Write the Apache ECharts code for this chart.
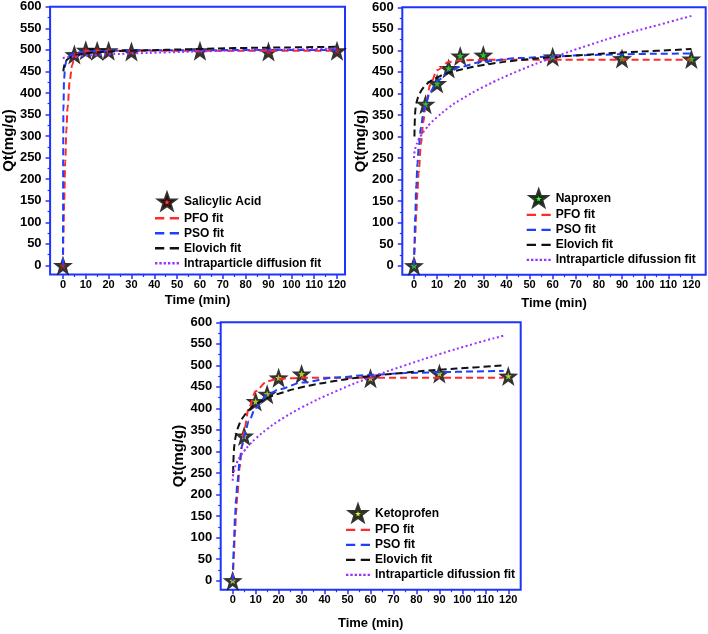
<!DOCTYPE html>
<html>
<head>
<meta charset="utf-8">
<script src="https://cdn.jsdelivr.net/npm/echarts@6/dist/echarts.min.js"></script>
<style>
html,body{margin:0;padding:0;background:#fff;}
#chart{width:708px;height:634px;}
</style>
</head>
<body>
<div id="chart"></div>
<script>
// ---- data ----
const timeMin = [0, 5, 10, 15, 20, 30, 60, 90, 120];
const salicylicQt = [0, 489, 499, 498, 498, 496, 498, 496, 498];
const naproxenQt = [0, 375, 423, 458, 487, 489, 485, 481, 480];
const ketoprofenQt = [0, 336, 416, 433, 471, 480, 470, 481, 475];

const fitT = [0, 0.2, 0.5, 1, 1.5, 2, 3, 4, 5, 7, 10, 15, 20, 30, 45, 60, 75, 90, 105, 120];
const ketoFitT = [0, 0.2, 0.5, 1, 1.5, 2, 3, 4, 5, 7, 10, 15, 20, 30, 45, 60, 75, 90, 105, 118];

const saPFO = [0, 62, 140, 240, 313, 365, 430, 464, 480, 493, 497, 498, 498, 498, 498, 498, 498, 498, 498, 498];
const saPSO = [0, 360, 433, 464, 475, 481, 487, 490, 492, 494, 496, 497, 498, 498.7, 499, 499, 499.5, 499.5, 499.6, 499.7];
const saElovich = [null, 450, 462, 470, 475, 478, 482, 485, 487, 489, 492, 494, 496, 498, 500, 502, 504, 505, 506, 507];
const saIPD = [480, 481, 481.5, 482, 482.6, 483, 483.6, 484.2, 484.7, 485.6, 486.6, 488, 489.4, 491.5, 494, 496.3, 498.2, 500, 501.5, 503];

const naPFO = [0, 28, 66, 124, 172, 215, 282, 333, 371, 420, 454, 473, 477, 478, 478, 478, 478, 478, 478, 478];
const naPSO = [0, 53, 115, 187, 237, 273, 321, 353, 375, 404, 429, 450, 462, 474, 482, 486, 489, 491, 492, 493];
const naElovich = [null, 300, 355, 376, 387, 394, 405, 413, 419, 428, 437, 448, 455, 466, 477, 484, 490, 495, 499, 503];
const naIPD = [250, 263, 271, 280, 287, 293, 302, 310, 317, 330, 345, 367, 385, 415, 452, 483, 511, 536, 558, 580];

const kePFO = [0, 25, 59, 112, 158, 197, 262, 311, 349, 401, 440, 463, 469, 471, 471, 471, 471, 471, 471, 471];
const kePSO = [0, 38, 86, 147, 192, 226, 276, 312, 336, 370, 401, 431, 444, 460, 472, 478, 482, 484, 486, 487];
const keElovich = [null, 250, 300, 325, 340, 350, 365, 375, 383, 396, 409, 424, 434, 449, 464, 475, 483, 490, 495, 500];
const keIPD = [232, 246, 254, 263, 270, 276, 286, 294, 301, 314, 330, 352, 371, 402, 440, 472, 500, 526, 550, 569];

const xMajorTicks = [0, 10, 20, 30, 40, 50, 60, 70, 80, 90, 100, 110, 120];
const xMinorTicks = [5, 15, 25, 35, 45, 55, 65, 75, 85, 95, 105, 115];
const yMajorTicks = [0, 50, 100, 150, 200, 250, 300, 350, 400, 450, 500, 550, 600];
const yMinorTicks = [25, 75, 125, 175, 225, 275, 325, 375, 425, 475, 525, 575];

// ---- styling ----
const FRAME = '#1f33ff';
const STAR = 'path://M50,2 L61.8,35.8 L97.6,36.4 L69,58.2 L79.4,92.6 L50,72 L20.6,92.6 L31,58.2 L2.4,36.4 L38.2,35.8 Z';
const DASH_ICON = 'path://M0,0h8.5v2.2h-8.5z M13.5,0h8.5v2.2h-8.5z';
const DOT_ICON = 'path://M0,0h2.2v2.2h-2.2z M4,0h2.2v2.2h-2.2z M8,0h2.2v2.2h-2.2z M12,0h2.2v2.2h-2.2z M16,0h2.2v2.2h-2.2z M20,0h2.2v2.2h-2.2z';
const FONT = '"Liberation Sans", Arial, sans-serif';
const C_PFO = '#ff2a2a', C_PSO = '#1f3fff', C_ELO = '#111111', C_IPD = '#9b30ff';

const panels = [
  {grid:{left:46.7, top:6.7, width:298.3, height:267.8}, xmin:-5.63, xmax:123.5, xGap:19, yGap:29,
   name:'Salicylic Acid', inner:'#ff1010', q:salicylicQt, t:fitT, fits:[saPFO, saPSO, saElovich, saIPD],
   ipdName:'Intraparticle diffusion fit', legend:{left:155, top:193}},
  {grid:{left:402.3, top:7.3, width:303.4, height:267.4}, xmin:-5.06, xmax:126.2, xGap:22, yGap:29,
   name:'Naproxen', inner:'#22ee22', q:naproxenQt, t:fitT, fits:[naPFO, naPSO, naElovich, naIPD],
   ipdName:'Intraparticle difussion fit', legend:{left:526.7, top:189.7}},
  {grid:{left:220.7, top:322.3, width:300, height:267.4}, xmin:-5.22, xmax:125.4, xGap:27, yGap:30,
   name:'Ketoprofen', inner:'#ccf030', q:ketoprofenQt, t:ketoFitT, fits:[kePFO, kePSO, keElovich, keIPD],
   ipdName:'Intraparticle difussion fit', legend:{left:346, top:504.7}}
];

const grids = [], xAxes = [], yAxes = [], series = [], legends = [];
const labelStyle = {color:'#000', fontWeight:'bold', fontFamily:FONT};
const noLine = {show:false, onZero:false};

panels.forEach((p, g) => {
  grids.push(Object.assign({show:true, borderColor:FRAME, borderWidth:2, backgroundColor:'transparent', containLabel:false}, p.grid));
  xAxes.push({
    type:'value', gridIndex:g, position:'bottom', min:p.xmin, max:p.xmax,
    axisLine:noLine, splitLine:{show:false},
    axisTick:{show:true, length:4.5, lineStyle:{color:FRAME, width:1.5}, customValues:xMajorTicks},
    axisLabel:Object.assign({fontSize:11, margin:5, customValues:xMajorTicks}, labelStyle),
    name:'Time (min)', nameLocation:'middle', nameGap:p.xGap,
    nameTextStyle:Object.assign({fontSize:13}, labelStyle)
  });
  xAxes.push({
    type:'value', gridIndex:g, position:'bottom', min:p.xmin, max:p.xmax,
    axisLine:noLine, splitLine:{show:false},
    axisTick:{show:true, length:2.5, lineStyle:{color:FRAME, width:1.2}, customValues:xMinorTicks},
    axisLabel:{show:false}
  });
  yAxes.push({
    type:'value', gridIndex:g, position:'left', min:-21, max:600,
    axisLine:noLine, splitLine:{show:false},
    axisTick:{show:true, length:4.5, lineStyle:{color:FRAME, width:1.5}, customValues:yMajorTicks},
    axisLabel:Object.assign({fontSize:13, margin:8.5, customValues:yMajorTicks}, labelStyle),
    name:'Qt(mg/g)', nameLocation:'middle', nameGap:p.yGap,
    nameTextStyle:Object.assign({fontSize:15}, labelStyle)
  });
  yAxes.push({
    type:'value', gridIndex:g, position:'left', min:-21, max:600,
    axisLine:noLine, splitLine:{show:false},
    axisTick:{show:true, length:2.5, lineStyle:{color:FRAME, width:1.2}, customValues:yMinorTicks},
    axisLabel:{show:false}
  });
  const xi = 2*g, yi = 2*g;
  const pts = timeMin.map((t, i) => [t, p.q[i]]);
  series.push({
    name:p.name, type:'scatter', xAxisIndex:xi, yAxisIndex:yi, symbol:STAR, symbolSize:20,
    itemStyle:{color:'#000'}, data:pts, z:1
  });
  series.push({
    name:p.name + ' (inner)', type:'scatter', xAxisIndex:xi, yAxisIndex:yi, symbol:STAR, symbolSize:7,
    itemStyle:{color:p.inner}, data:pts, z:1
  });
  const fitDefs = [
    {name:'PFO fit', color:C_PFO, type:[7,4], smooth:0.3, mono:'x'},
    {name:'PSO fit', color:C_PSO, type:[7,4], smooth:0.3, mono:'x'},
    {name:'Elovich fit', color:C_ELO, type:[7,4], smooth:0.5, mono:null},
    {name:p.ipdName, color:C_IPD, type:[2,2.6], smooth:0.5, mono:null}
  ];
  fitDefs.forEach((f, k) => {
    const s = {
      name:f.name, type:'line', xAxisIndex:xi, yAxisIndex:yi, symbol:'none', showSymbol:false,
      smooth:f.smooth, connectNulls:false,
      lineStyle:{color:f.color, width:2, type:f.type}, itemStyle:{color:f.color},
      data:p.t.map((t, i) => [t, p.fits[k][i]]), z:3
    };
    if (f.mono) s.smoothMonotone = f.mono;
    series.push(s);
  });
  legends.push({
    orient:'vertical', left:p.legend.left, top:p.legend.top, padding:0,
    itemWidth:24, itemHeight:14, itemGap:1, selectedMode:false,
    textStyle:{color:'#000', fontSize:12, fontWeight:'bold', fontFamily:FONT, lineHeight:14},
    data:[
      {name:p.name, icon:STAR, itemStyle:{color:p.inner, borderColor:'#000', borderWidth:3.2}},
      {name:'PFO fit', icon:DASH_ICON, itemStyle:{color:C_PFO}},
      {name:'PSO fit', icon:DASH_ICON, itemStyle:{color:C_PSO}},
      {name:'Elovich fit', icon:DASH_ICON, itemStyle:{color:C_ELO}},
      {name:p.ipdName, icon:DOT_ICON, itemStyle:{color:C_IPD}}
    ]
  });
});

const chart = echarts.init(document.getElementById('chart'), null, {renderer:'canvas'});
chart.setOption({
  animation:false,
  backgroundColor:'#fff',
  grid:grids, xAxis:xAxes, yAxis:yAxes, legend:legends, series:series
});
</script>
</body>
</html>
